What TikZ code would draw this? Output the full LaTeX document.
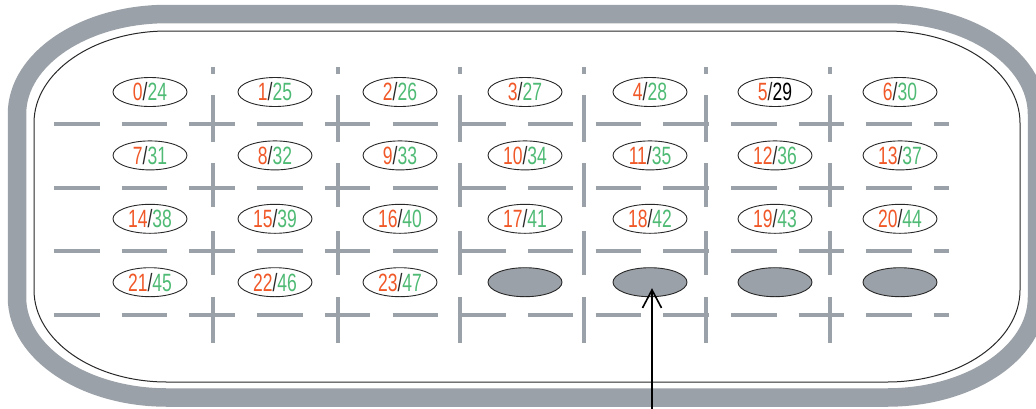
\documentclass[tikz,border=0pt]{standalone}
\usepackage{fontspec}
\setmainfont[FakeStretch=0.7]{Liberation Sans}
\usetikzlibrary{shapes.geometric,arrows.meta}
\definecolor{band}{RGB}{155,161,168}
\definecolor{org}{RGB}{240,88,40}
\definecolor{grn}{RGB}{78,186,116}
\definecolor{edge}{RGB}{40,40,40}
\begin{document}
\begin{tikzpicture}[x=1pt,y=-1pt,
  cav/.style={ellipse, draw=edge, line width=0.9pt, minimum width=74pt, minimum height=29pt, inner sep=0pt, font=\fontsize{25}{25}\selectfont},
  plug/.style={cav, fill=band},
  gridline/.style={draw=band, line width=4.2pt},
  hdash/.style={gridline, dash pattern=on 45.5pt off 22.2pt},
  shell/.style={draw=band, line width=18.5pt},
  liner/.style={draw=edge, line width=1pt},
  pointer/.style={draw=black, line width=1.6pt, -{Straight Barb[length=18pt,width=19pt,line width=1.6pt]}}
]
\useasboundingbox (0,0) rectangle (1036,408);
\clip (0,0) rectangle (1036,408);
% outer shell band
\path[shell] (167,14) -- (887,14) .. controls (969.8,14) and (1037,58.8) .. (1037,114)
  -- (1037,297.5) .. controls (1037,352.7) and (969.8,397.5) .. (887,397.5)
  -- (167,397.5) .. controls (84.2,397.5) and (17,352.7) .. (17,297.5)
  -- (17,114) .. controls (17,58.8) and (84.2,14) .. (167,14) -- cycle;
% inner thin outline
\path[liner] (167,31) -- (887,31) .. controls (960.5,31) and (1020,72.2) .. (1020,123)
  -- (1020,290) .. controls (1020,340.8) and (960.5,382) .. (887,382)
  -- (167,382) .. controls (93.5,382) and (34,340.8) .. (34,290)
  -- (34,123) .. controls (34,72.2) and (93.5,31) .. (167,31) -- cycle;
% horizontal dashed lines
\foreach \yy in {124,188,251,315} {
  \path[hdash] (54,\yy) -- (949,\yy);
}
% vertical dashed lines
\foreach \xx in {213,338,460,584,706,830} {
  \path[gridline] (\xx,67) -- (\xx,74) (\xx,95) -- (\xx,142) (\xx,163) -- (\xx,207)
    (\xx,231) -- (\xx,275) (\xx,297) -- (\xx,343);
}
% cavities
\foreach \r in {0,...,3} {
  \foreach \c in {0,...,6} {
    \pgfmathtruncatemacro\n{7*\r+\c}
    \pgfmathtruncatemacro\m{\n+24}
    \pgfmathsetmacro\px{150+125*\c}
    \pgfmathsetmacro\py{92+63.4*\r}
    \ifnum\n<24
      \ifnum\n=5
        \node[cav] (p\n) at (\px,\py) {\textcolor{org}{\n}\textcolor{edge}{/}\textcolor{black}{\m}};
      \else
        \node[cav] (p\n) at (\px,\py) {\textcolor{org}{\n}\textcolor{edge}{/}\textcolor{grn}{\m}};
      \fi
    \else
      \node[plug] (p\n) at (\px,\py) {};
    \fi
  }
}
% pointer arrow
\coordinate (src) at (652,410);
\draw[pointer] (src) -- ([shift={(2,6)}]p25.center);
\end{tikzpicture}
\end{document}
